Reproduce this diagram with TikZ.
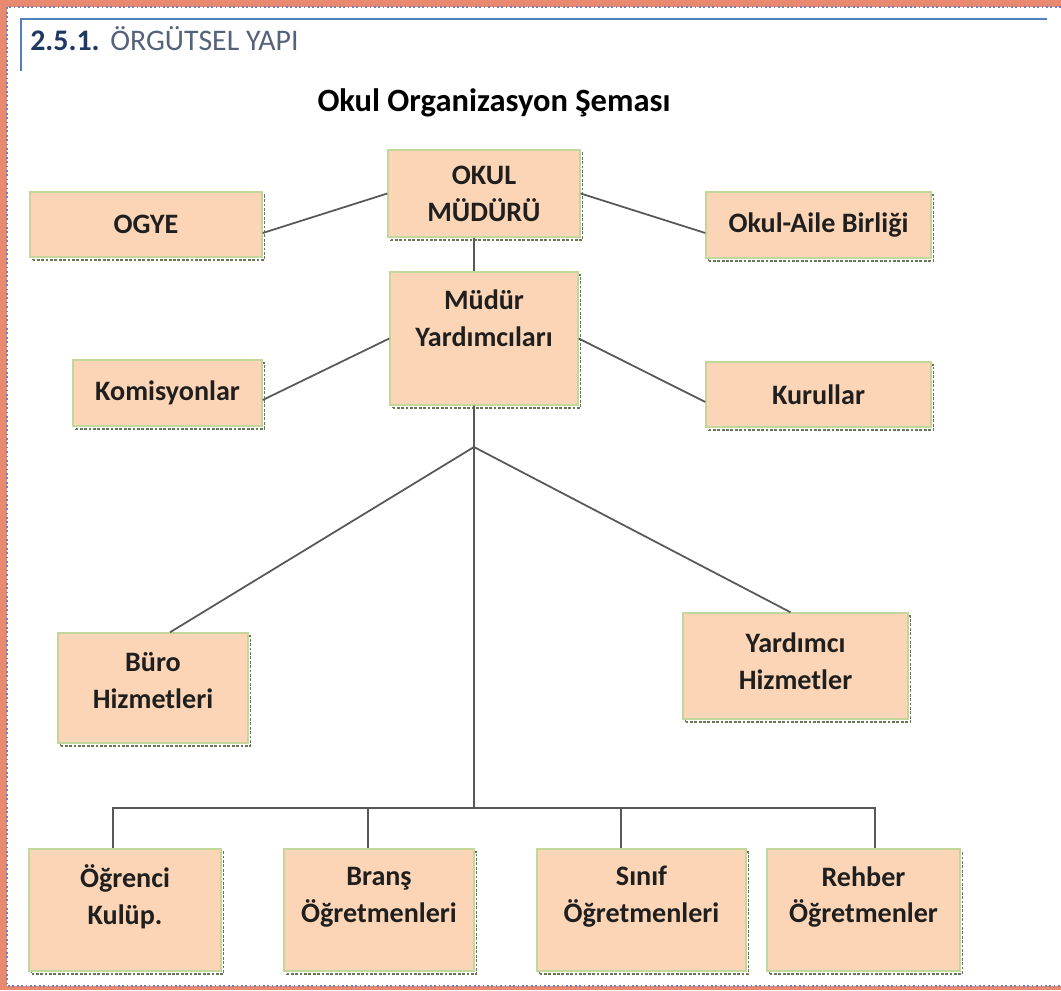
\documentclass[tikz,border=0pt]{standalone}
\usepackage{fontspec}
\setmainfont{Carlito}
\usepackage{tikz}
\usepackage{xcolor}

\definecolor{kenar}{RGB}{233,137,112}
\definecolor{nokta}{RGB}{112,128,190}
\definecolor{baslik}{RGB}{79,129,189}
\definecolor{numara}{RGB}{31,56,100}
\definecolor{gri}{RGB}{84,98,122}
\definecolor{kutu}{RGB}{251,213,181}
\definecolor{kutukenar}{RGB}{195,214,155}
\definecolor{golge}{RGB}{105,118,85}
\definecolor{cizgi}{RGB}{88,88,88}

\begin{document}
\begin{tikzpicture}[
  kutu/.style={draw=kutukenar, fill=kutu, line width=0.8pt, inner sep=0pt,
    preaction={draw=golge, line width=1.1pt, dash pattern=on 1.6pt off 0.9pt,
      transform canvas={shift={(0.05,-0.06)}}}},
  yazi/.style={font=\fontsize{16}{21}\selectfont\bfseries, text=black!88, align=center},
  hat/.style={draw=cizgi, line width=1pt}
]
\useasboundingbox (0,0) rectangle (21.22,-19.8);

% cerceve
\fill[white] (0,0) rectangle (21.22,-19.8);
\fill[kenar] (0,0) rectangle (21.22,-0.14);
\fill[kenar] (0,0) rectangle (0.14,-19.8);
\fill[kenar] (0,-19.72) rectangle (21.22,-19.8);
\draw[nokta, line width=0.9pt, dash pattern=on 1pt off 1.5pt] (21.22,-0.14) -- (0.14,-0.14) -- (0.14,-19.72) -- (21.22,-19.72);

% bolum basligi
\draw[baslik, line width=1.4pt] (0.4,-0.38) -- (20.94,-0.38);
\draw[baslik, line width=1pt] (0.42,-0.38) -- (0.42,-1.42);
\node[anchor=base west, inner sep=0pt, text=numara, font=\fontsize{17}{20}\selectfont\bfseries] (bolumno) at (0.6,-1.0) {2.5.1.};
\node[anchor=base west, inner sep=0pt, text=gri, font=\fontsize{17}{20}\selectfont] (bolumad) at (2.2,-1.0) {ÖRGÜTSEL YAPI};

\node[anchor=base, inner sep=0pt, font=\fontsize{18.5}{22}\selectfont\bfseries] (sema) at (9.88,-2.22) {Okul Organizasyon Şeması};

% kutular
\node[kutu, minimum width=3.84cm, minimum height=1.74cm, yazi] (mudur) at (9.68,-3.87) {OKUL\\MÜDÜRÜ};
\node[kutu, minimum width=4.64cm, minimum height=1.30cm, yazi] (ogye) at (2.92,-4.49) {OGYE};
\node[kutu, minimum width=4.50cm, minimum height=1.32cm, yazi] (veli) at (16.37,-4.50) {Okul-Aile Birliği};

\node[kutu, minimum width=3.76cm, minimum height=2.66cm] (yrd) at (9.68,-6.77) {};
\node[yazi] (yrdyazi) at ([yshift=0.4cm]yrd.center) {Müdür\\Yardımcıları};
\node[kutu, minimum width=3.78cm, minimum height=1.32cm, yazi] (kom) at (3.35,-7.86) {Komisyonlar};
\node[kutu, minimum width=4.50cm, minimum height=1.30cm, yazi] (kur) at (16.37,-7.89) {Kurullar};

\node[kutu, minimum width=3.80cm, minimum height=2.20cm] (buro) at (3.06,-13.76) {};
\node[yazi] (buroyazi) at ([yshift=0.14cm]buro.center) {Büro\\Hizmetleri};
\node[kutu, minimum width=4.50cm, minimum height=2.12cm] (yhiz) at (15.91,-13.32) {};
\node[yazi] (yhizyazi) at ([yshift=0.1cm]yhiz.center) {Yardımcı\\Hizmetler};

\foreach \ad/\x/\w/\metin in {ogr/2.50/3.84/{Öğrenci\\Kulüp.}, brans/7.58/3.80/{Branş\\Öğretmenleri},
    sinif/12.83/4.18/{Sınıf\\Öğretmenleri}, rehber/17.27/3.86/{Rehber\\Öğretmenler}}{
  \node[kutu, minimum width=\w cm, minimum height=2.44cm] (\ad) at (\x,-18.20) {};
  \node[yazi] (\ad yazi) at ([yshift=0.26cm]\ad.center) {\metin};
}

% baglantilar
\draw[hat] ([yshift=-0.17cm]ogye.east) -- (mudur.west);
\draw[hat] (mudur.east) -- ([yshift=-0.16cm]veli.west);
\draw[hat] ([xshift=-0.2cm]mudur.south) -- ([xshift=-0.2cm]yrd.north);
\draw[hat] (yrd.west) -- ([yshift=-0.14cm]kom.east);
\draw[hat] (yrd.east) -- ([yshift=-0.15cm]kur.west);

\coordinate (kol) at (9.48,-8.94);
\coordinate (bara) at (9.48,-16.16);
\draw[hat] ([xshift=-0.2cm]yrd.south) -- (bara);
\draw[hat] (kol) -- ([xshift=0.34cm]buro.north);
\draw[hat] (kol) -- ([xshift=-0.1cm]yhiz.north);
\foreach \ad/\s in {ogr/-0.24, brans/-0.22, sinif/-0.41, rehber/0.23}
  \draw[hat] ([xshift=\s cm]\ad.north) |- (bara);
\end{tikzpicture}
\end{document}
